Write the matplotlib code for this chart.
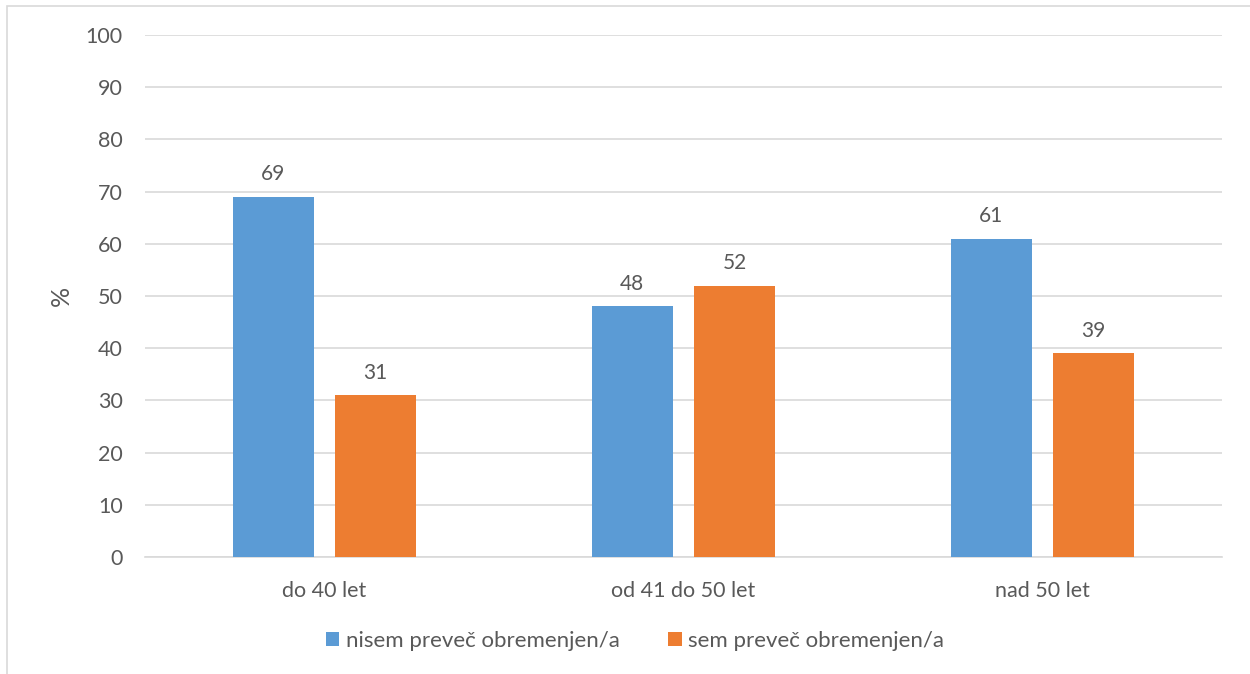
import matplotlib
matplotlib.use("Agg")
import matplotlib.pyplot as plt
import numpy as np
from matplotlib.patches import Rectangle

categories = ["do 40 let", "od 41 do 50 let", "nad 50 let"]
series_names = ["nisem preveč obremenjen/a", "sem preveč obremenjen/a"]
not_burdened = [69, 48, 61]
burdened = [31, 52, 39]
yticks = [0, 10, 20, 30, 40, 50, 60, 70, 80, 90, 100]

blue = "#5B9BD5"
orange = "#ED7D31"
txt = "#595959"
grid = "#D9D9D9"

plt.rcParams['font.family'] = ['Lato', 'DejaVu Sans']

fig = plt.figure(figsize=(12.5, 6.74), dpi=100)
ax = fig.add_axes([0.116, 0.1736, 0.8616, 0.7744])

x = np.arange(len(categories))
w = 0.226
off = 0.1425
b1 = ax.bar(x - off, not_burdened, w, color=blue, label=series_names[0], zorder=3)
b2 = ax.bar(x + off, burdened, w, color=orange, label=series_names[1], zorder=3)

for bars, vals in [(b1, not_burdened), (b2, burdened)]:
    for r, v in zip(bars, vals):
        ax.annotate(f"{v}", (r.get_x() + r.get_width() / 2, v), xytext=(0, 9),
                    textcoords="offset points", ha="center", va="bottom",
                    fontsize=15, color=txt)

ax.set_xlim(-0.5, 2.5)
ax.set_ylim(0, 100)
ax.set_yticks(yticks)
ax.set_xticks(x)
ax.set_xticklabels(categories)
ax.tick_params(axis='both', length=0, labelsize=15.5, colors=txt)
ax.tick_params(axis='y', pad=16)
ax.tick_params(axis='x', pad=17)
ax.yaxis.grid(True, color=grid, linewidth=1.2, zorder=0)
for s in ['top', 'right', 'left']:
    ax.spines[s].set_visible(False)
ax.spines['bottom'].set_color(grid)
ax.spines['bottom'].set_linewidth(1.2)
ax.set_ylabel("%", fontsize=18, color=txt, labelpad=9)

leg = fig.legend(handles=[b1, b2], labels=series_names, loc='center',
                 bbox_to_anchor=(0.508, 0.049), ncol=2, frameon=False,
                 fontsize=16, handlelength=0.6, handleheight=0.6,
                 handletextpad=0.3, columnspacing=2.2, labelcolor=txt)

# chart area border (left & top visible)
fig.add_artist(Rectangle((0.0052, -0.01), 1.2, 1.0004,
                         transform=fig.transFigure, fill=False,
                         edgecolor=grid, linewidth=1.2))

fig.savefig("out.png", dpi=100)
